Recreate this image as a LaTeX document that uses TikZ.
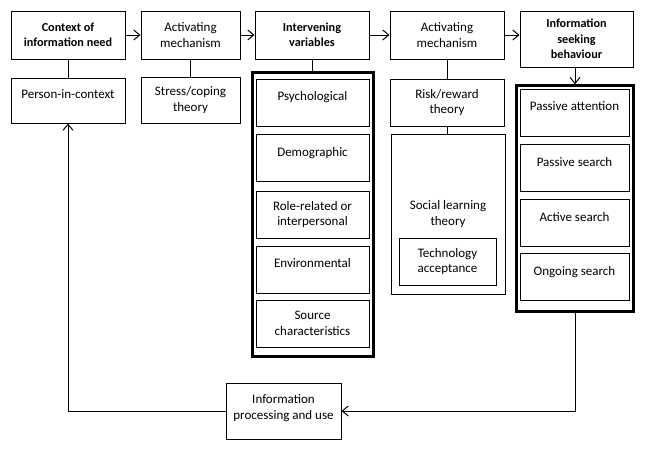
\documentclass[tikz,border=0pt]{standalone}
\usepackage{fontspec}
\setmainfont{Carlito}
\usetikzlibrary{arrows.meta}

\newcommand{\diagfont}{\fontsize{13}{15.5}\selectfont}
\newcommand{\headfont}{\fontsize{12.2}{15.5}\selectfont\bfseries}

\begin{document}
\begin{tikzpicture}[
    x=1pt,
    y=-1pt,
    font=\diagfont,
    box/.style={draw, line width=1pt, align=center, inner sep=2pt,
        minimum width=114pt, minimum height=47pt},
    headbox/.style={box, font=\headfont, minimum height=48pt},
    frame/.style={draw, line width=3pt, inner sep=0pt},
    oneline/.style={text height=10pt, text depth=14pt},
    link/.style={line width=1pt},
    flow/.style={line width=1pt, -{Straight Barb[length=6pt,width=10pt]}}
]
\useasboundingbox (0,0) rectangle (649,458);

% top row
\node[headbox] (ctx) at (68,35) {Context of\\information need};
\node[box, minimum width=99pt, minimum height=48pt] (act1) at (190.5,35) {Activating\\mechanism};
\node[headbox] (ivar) at (312,35) {Intervening\\variables};
\node[box, minimum height=48pt] (act2) at (447,35) {Activating\\mechanism};
\node[headbox, minimum width=113pt, minimum height=56pt] (isb) at (576.5,39) {Information\\seeking\\behaviour};

\draw[flow] (ctx.east) -- (act1.west);
\draw[flow] (act1.east) -- (ivar.west);
\draw[flow] (ivar.east) -- (act2.west);
\draw[flow] (act2.east) -- (act2.east -| isb.west);

% second row
\node[box, oneline, minimum height=45pt] (pic) at (68,100.5) {Person-in-context};
\node[box, minimum width=99pt, minimum height=46pt] (stress) at (190.5,100) {Stress/coping\\theory};
\node[box] (risk) at (447,102.5) {Risk/reward\\theory};

\draw[link] (ctx.south) -- (pic.north);
\draw[link] (act1.south) -- (stress.north);
\draw[link] (act2.south) -- (risk.north);

% intervening variables
\node[frame, minimum width=121pt, minimum height=284pt] (ivarframe) at (312.7,214.6) {};
\node[box, oneline, minimum width=113pt] (psy) at (312.5,102.5) {Psychological};
\node[box, oneline, minimum width=113pt] (demo) at (312.5,158) {Demographic};
\node[box, minimum width=113pt] (role) at (312.5,214.5) {Role-related or\\interpersonal};
\node[box, oneline, minimum width=113pt] (env) at (312.5,269.5) {Environmental};
\node[box, minimum width=113pt] (src) at (312.5,323.5) {Source\\characteristics};

\draw[link] (ivar.south) -- (ivar.south |- ivarframe.north);

% learning theories
\node[box, minimum height=160pt] (social) at (448,214) {Social learning\\theory};
\node[box, minimum width=97pt] (tech) at (447.5,261.5) {Technology\\acceptance};

\draw[link] (risk.south) -- (risk.south |- social.north);

% information seeking
\node[frame, minimum width=116.6pt, minimum height=225.6pt] (isbframe) at (575,198.5) {};
\node[box, oneline, minimum width=109pt] (pa) at (574.5,112.5) {Passive attention};
\node[box, oneline, minimum width=109pt] (ps) at (574.5,168) {Passive search};
\node[box, oneline, minimum width=109pt] (as) at (574.5,223) {Active search};
\node[box, oneline, minimum width=109pt] (os) at (574.5,277) {Ongoing search};

\draw[flow] (isbframe.north |- isb.south) -- (isbframe.north);

% feedback
\node[box, minimum width=115pt, minimum height=56pt, text depth=8pt] (info) at (283.5,411) {Information\\processing and use};

\draw[flow] (isbframe.south) |- (info.east);
\draw[flow] (info.west) -| (pic.south);

\end{tikzpicture}
\end{document}
